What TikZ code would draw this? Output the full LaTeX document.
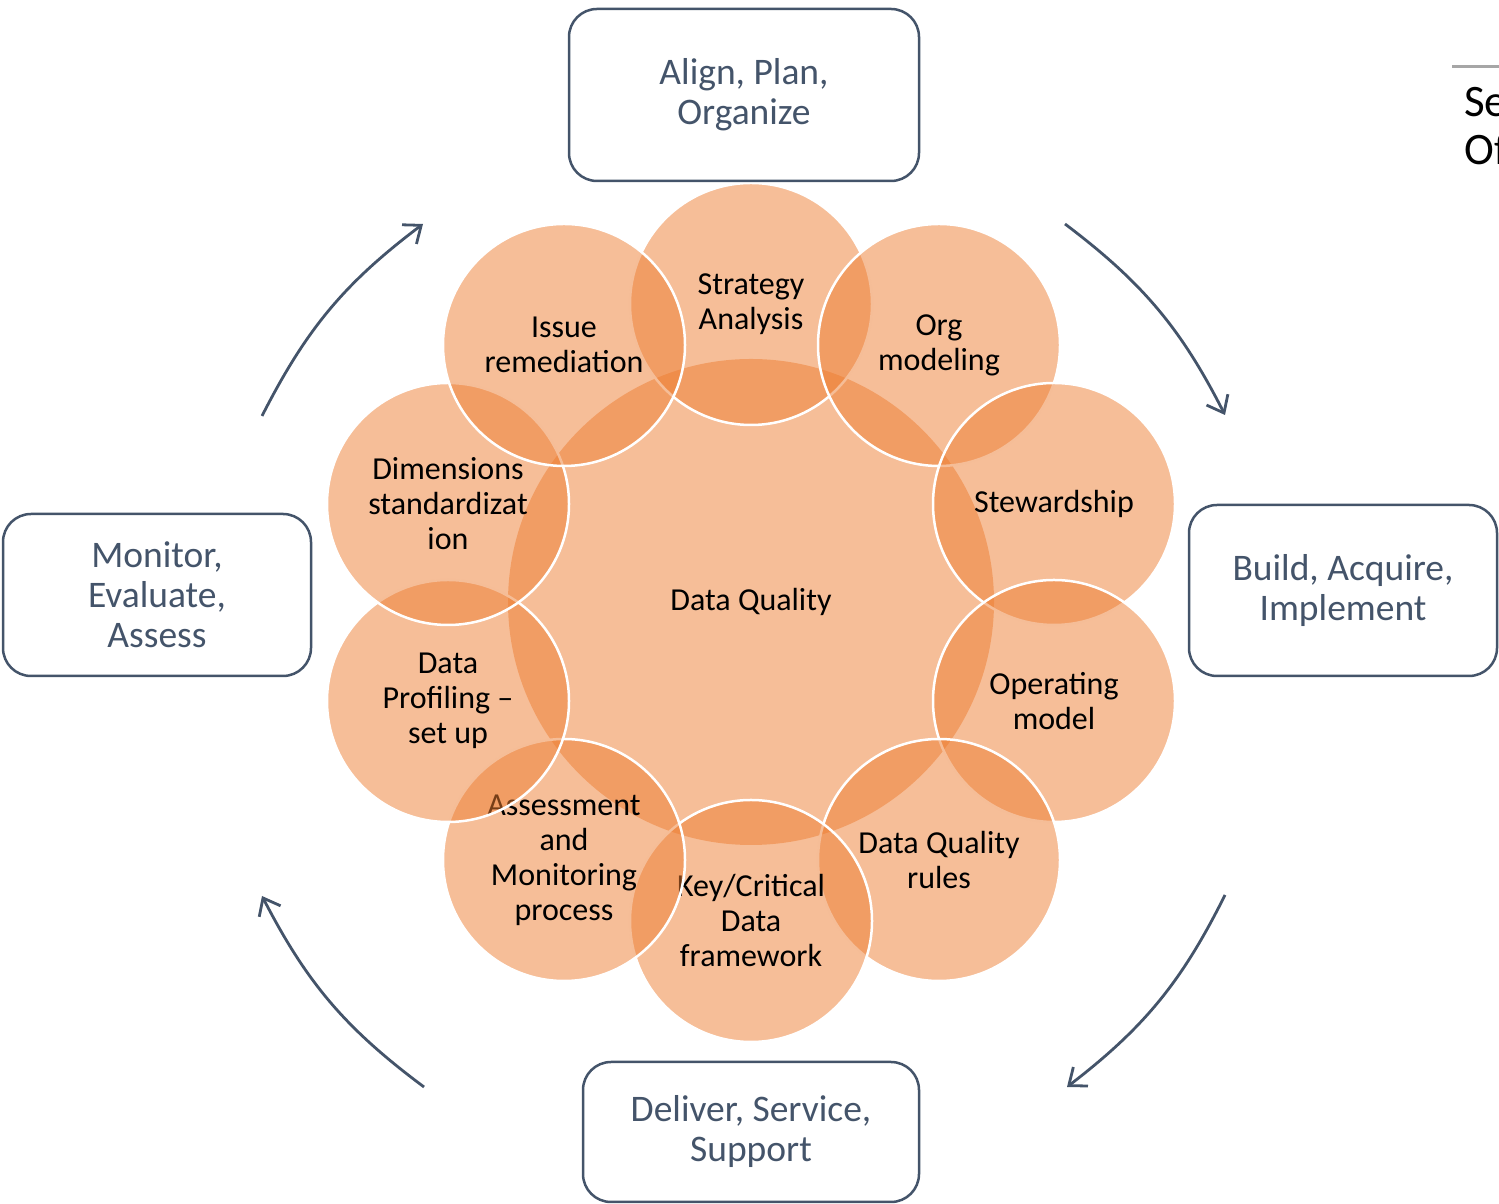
\documentclass[tikz,border=0pt]{standalone}
\usepackage{fontspec}
\setmainfont{Carlito}
\usetikzlibrary{arrows.meta}
\definecolor{dqorange}{HTML}{ED7D31}
\definecolor{slate}{HTML}{44546A}
\begin{document}
\begin{tikzpicture}[x=1pt,y=1pt,
  hub/.style={circle, fill=dqorange, fill opacity=0.5, text opacity=1, minimum size=486pt, inner sep=0pt, align=center, font=\fontsize{32}{35}\selectfont},
  bubble/.style={circle, fill=dqorange, fill opacity=0.5, text opacity=1, draw=white, draw opacity=1, line width=2.5pt, minimum size=242pt, inner sep=0pt, align=center, font=\fontsize{32}{35}\selectfont},
  phase/.style={rectangle, rounded corners=28pt, draw=slate, line width=2.5pt, text=slate, align=center, inner sep=0pt, font=\fontsize{37.5}{40}\selectfont},
  flow/.style={draw=slate, line width=2.8pt, -{Straight Barb[length=15pt,width=24pt]}},
  cut/.style={inner sep=0pt, font=\fontsize{45}{48}\selectfont}
]
\useasboundingbox (0,0) rectangle (1499,1204);

% centre
\node[hub] (dq) at (751,602) {Data Quality};

% bubbles, clockwise from the top
\node[bubble] (strat) at (751,900) {Strategy\\Analysis};
\node[bubble] (org) at (939,859) {Org\\modeling};
\node[bubble] (stew) at (1054,700) {Stewardship};
\node[bubble] (opm) at (1054,503) {Operating\\model};
\node[bubble] (rules) at (939,344) {Data Quality\\rules};
\node[bubble] (key) at (751,283) {Key/Critical\\Data\\framework};
\node[bubble] (assess) at (564,344) {Assessment\\and\\Monitoring\\process};
\node[bubble] (prof) at (448,503) {Data\\Profiling --\\set up};
\node[bubble] (dims) at (448,700) {Dimensions\\standardizat\\ion};
\node[bubble] (issue) at (564,859) {Issue\\remediation};

% phase boxes
\node[phase, minimum width=350pt, minimum height=172pt] (apo) at (744,1109) {Align, Plan,\\Organize};
\node[phase, minimum width=308pt, minimum height=171pt] (bai) at (1343,613.5) {Build, Acquire,\\Implement};
\node[phase, minimum width=336pt, minimum height=140pt] (dss) at (751,72) {Deliver, Service,\\Support};
\node[phase, minimum width=308pt, minimum height=162pt] (mea) at (157,609) {Monitor,\\Evaluate,\\Assess};

% arrow ends
\coordinate (a1s) at (1065,980);
\coordinate (a1e) at (1225,789);
\coordinate (a2s) at (1225,309);
\coordinate (a2e) at (1067,117);
\coordinate (a3s) at (424,117);
\coordinate (a3e) at (262,308);
\coordinate (a4s) at (262,788);
\coordinate (a4e) at (423,980);
\draw[flow] (a1s) to[bend left=13] (a1e);
\draw[flow] (a2s) to[bend left=13] (a2e);
\draw[flow] (a3s) to[bend left=13] (a3e);
\draw[flow] (a4s) to[bend left=13] (a4e);

% clipped remnants at top right
\coordinate (r1) at (1452,1137);
\coordinate (r2) at (1510,1137);
\draw[gray!70, line width=3pt] (r1) -- (r2);
\node[cut, anchor=base west] (se) at (1464,1087) {Se};
\node[cut, anchor=base west] (of) at (1464,1039) {Of};
\end{tikzpicture}
\end{document}
